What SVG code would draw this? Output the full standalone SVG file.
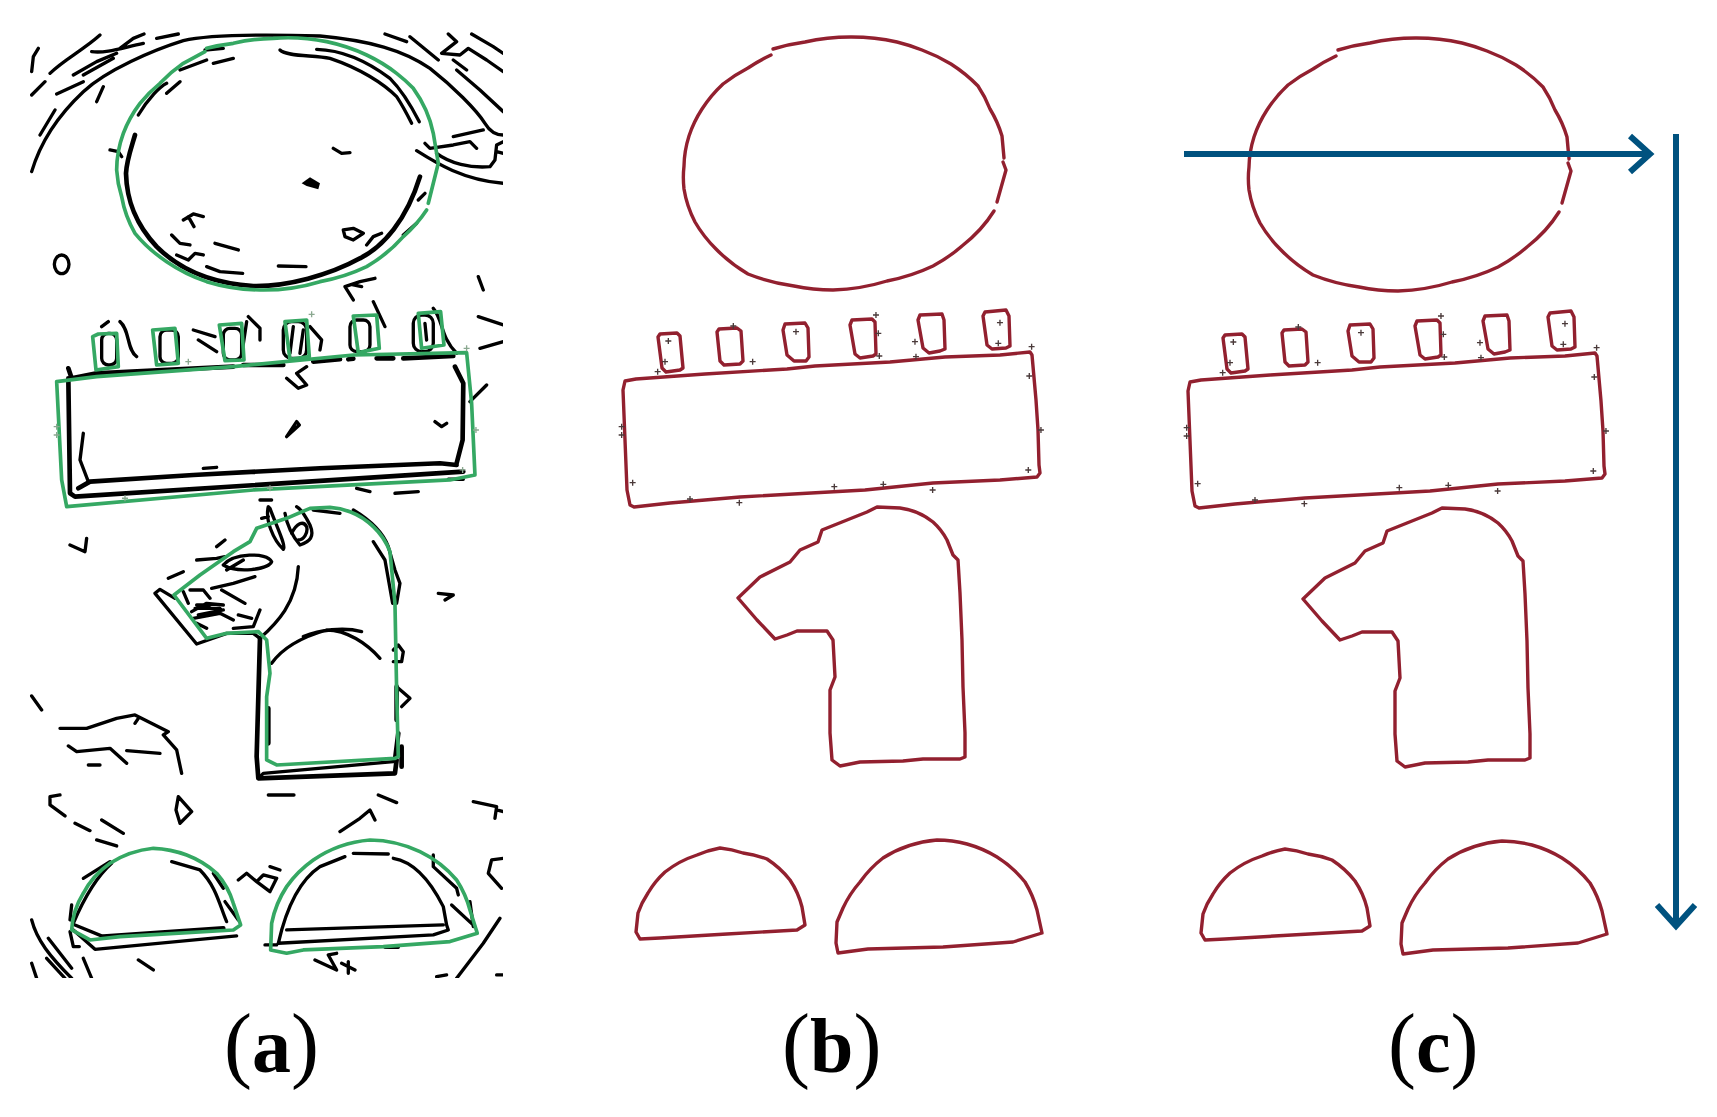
<svg xmlns="http://www.w3.org/2000/svg" xmlns:xlink="http://www.w3.org/1999/xlink" width="1717" height="1117" viewBox="0 0 1717 1117">
<style>
.k{fill:none;stroke:#000;stroke-width:10;stroke-linecap:round;stroke-linejoin:round}
.kt{stroke-width:14}
.g{fill:none;stroke:#35a863;stroke-width:11;stroke-linejoin:round;stroke-linecap:round}
.r{fill:none;stroke:#92202f;stroke-width:3.4;stroke-linejoin:round;stroke-linecap:round}
.plus{fill:none;stroke:#4a3a3a;stroke-width:4}
.gp{fill:none;stroke:#8aa890;stroke-width:4}
.lab{font-family:"Liberation Serif","Times New Roman",serif;font-size:84px;fill:#000}
.lab .b{font-weight:bold;font-size:78px}
.ar{fill:none;stroke:#00527f;stroke-width:6;stroke-linecap:butt;stroke-linejoin:miter}
</style>
<defs>
<clipPath id="cp"><rect x="28" y="32" width="475" height="946"/></clipPath>
<path id="p" d="M-9 0H9M0-9V9"/>
<g id="contours">
<path class="r" d="M773,49 A165 130 0 0 1 805,42 A165 130 0 0 1 851,37 A165 130 0 0 1 897,42 A165 130 0 0 1 922,50 A165 130 0 0 1 951,64 A165 130 0 0 1 978,86 A165 130 0 0 1 990,109 A165 130 0 0 1 1002,136 L1004,158"/>
<path class="r" d="M1003,162 L1006,170 L997,202"/>
<path class="r" d="M994,211 A165 130 0 0 1 962,246 A165 130 0 0 1 933,266 A165 130 0 0 1 887,281 A165 130 0 0 1 833,290 A165 130 0 0 1 794,286 A165 130 0 0 1 748,274 A165 130 0 0 1 716,249 A165 130 0 0 1 695,222 A165 130 0 0 1 684,189 A165 130 0 0 1 684,166 A165 130 0 0 1 689,136 A165 130 0 0 1 702,109 A165 130 0 0 1 723,84 A165 130 0 0 1 748,68 A165 130 0 0 1 771,55"/>
<path class="r" d="M625,381 L636,379 L705,374 L787,369 L815,366 L890,362 L945,357 L1000,355 L1030,352 L1032,355 L1036,400 L1038,430 L1039,465 L1040,473 L1037,477 L1000,480 L933,483 L865,490 L740,497 L670,503 L634,507 L630,505 L627,490 L625,440 L623,390 Z"/>
<path class="r" d="M660,334 L677,333 L680,336 L683,368 L680,370 L666,372 L662,368 L658,337 Z"/>
<path class="r" d="M719,329 L737,328 L741,331 L743,361 L740,364 L724,365 L720,361 L717,332 Z"/>
<path class="r" d="M785,324 L805,323 L808,328 L809,357 L806,361 L794,361 L787,355 L783,330 Z"/>
<path class="r" d="M852,320 L872,319 L875,322 L876,354 L873,356 L860,358 L855,354 L850,325 Z"/>
<path class="r" d="M920,315 L942,314 L944,320 L945,349 L940,351 L929,353 L923,348 L918,320 Z"/>
<path class="r" d="M985,312 L1006,310 L1009,316 L1010,346 L1006,348 L992,349 L987,345 L983,316 Z"/>
<path class="r" d="M738,598 L760,577 L790,562 L800,550 L818,542 L822,530 L867,512 L877,507 L900,508 A65 65 0 0 1 933,522 A65 65 0 0 1 947,540 L953,555 L958,560 L960,593 L962,640 L963,687 L965,733 L965,757 L960,759 L923,759 L903,761 L860,762 L840,766 L832,760 L830,733 L830,690 L835,677 L833,640 L827,631 L797,631 L787,635 L775,639 L757,620 Z"/>
<path class="r" d="M636,932 L638,913 A100 90 0 0 1 648,893 A100 90 0 0 1 665,872 A100 90 0 0 1 697,855 A100 90 0 0 1 720,848 A100 90 0 0 1 743,853 A100 90 0 0 1 767,859 A100 90 0 0 1 790,880 A100 90 0 0 1 802,907 L805,925 L797,930 L727,934 L660,938 L640,939 Z"/>
<path class="r" d="M837,922 L843,908 A115 110 0 0 1 860,882 A115 110 0 0 1 883,858 A115 110 0 0 1 937,840 A115 110 0 0 1 967,844 A115 110 0 0 1 997,857 A115 110 0 0 1 1025,882 A115 110 0 0 1 1037,910 L1042,933 L1013,942 L943,947 L868,949 L838,953 L836,943 Z"/>
<g transform="translate(600 300) scale(.3333)" class="plus">
<use xlink:href="#p" x="205" y="123"/><use xlink:href="#p" x="195" y="185"/><use xlink:href="#p" x="173" y="215"/><use xlink:href="#p" x="400" y="78"/><use xlink:href="#p" x="458" y="185"/><use xlink:href="#p" x="588" y="95"/><use xlink:href="#p" x="828" y="45"/><use xlink:href="#p" x="835" y="100"/><use xlink:href="#p" x="838" y="168"/><use xlink:href="#p" x="945" y="125"/><use xlink:href="#p" x="948" y="170"/><use xlink:href="#p" x="1200" y="68"/><use xlink:href="#p" x="1195" y="130"/><use xlink:href="#p" x="1295" y="140"/><use xlink:href="#p" x="1288" y="228"/><use xlink:href="#p" x="1323" y="390"/><use xlink:href="#p" x="1285" y="510"/><use xlink:href="#p" x="998" y="570"/><use xlink:href="#p" x="850" y="553"/><use xlink:href="#p" x="703" y="560"/><use xlink:href="#p" x="418" y="608"/><use xlink:href="#p" x="270" y="597"/><use xlink:href="#p" x="98" y="548"/><use xlink:href="#p" x="65" y="380"/><use xlink:href="#p" x="65" y="405"/>
</g>
</g>
</defs>
<rect width="1717" height="1117" fill="#fff"/>
<g id="panel-a" clip-path="url(#cp)">
<g transform="translate(20 20) scale(.3333)">
<path class="k" d="M35,455 C60,370 110,290 190,215 C260,150 400,90 490,62 C560,45 700,42 900,48 C1050,62 1150,90 1230,145 C1300,200 1370,270 1395,310 C1410,335 1430,345 1450,345"/>
<path class="k" d="M35,155 L40,110 L55,85M35,225 L75,185M90,160 C130,120 190,90 240,45M110,222 L190,185M160,165 L230,125 L290,100M215,95 C260,100 300,85 370,70M300,85 L340,55 L372,42M190,165 L280,115M410,55 L475,42M60,345 L105,270M230,245 L250,200M480,150 L560,120M580,130 L640,115M555,90 L610,85M440,220 L480,185M355,285 C385,235 420,200 440,190"/>
<path class="k kt" d="M345,345 C335,380 320,420 318,460 C320,540 345,610 410,680 C480,750 570,790 700,798 C800,800 930,765 1020,715 C1090,680 1160,600 1200,470"/>
<path class="k" d="M780,90 C800,110 880,105 930,115 C1020,145 1090,190 1130,230 C1150,260 1165,290 1175,310M890,88 C970,90 1050,130 1110,175 C1150,215 1180,270 1198,305"/>
<path class="k" d="M1095,42 L1160,65M1170,50 L1255,120M1285,42 L1310,65 L1265,100 L1320,105 L1345,85 L1400,120 L1450,155M1355,42 L1420,80 L1450,100M1310,150 L1380,210 L1450,275M1300,120 L1340,150"/>
<path class="k" d="M1300,350 L1390,330M1215,370 L1230,385 L1300,375 L1350,365 L1370,385M1190,392 C1250,430 1330,480 1450,490M1250,400 C1290,430 1350,445 1410,440 L1425,420 L1430,375 L1450,365M1430,395 L1450,400M940,385 L965,400 L990,398M1215,520 L1195,540"/>
<path d="M845,490 L870,472 L900,490 L895,508 L860,498 Z" fill="#000"/>
<path class="k" d="M490,600 L520,582 L550,590M505,590 L522,620M455,645 L480,670 L510,675M585,670 L655,690M470,705 L505,720 L525,700 L550,705M560,740 L600,755 L668,760M775,738 L858,740M970,630 L1000,625 L1030,640 L1000,660 L975,650 ZM1040,675 L1060,650 L1085,640M1150,645 L1190,610M270,390 L295,395 L305,410M1065,775 L1020,785 L975,800 L1000,840M1000,795 L1025,800M1375,770 L1390,810M1375,890 L1450,915M1380,985 L1450,965M1350,1145 L1400,1095"/>
<ellipse class="k" cx="125" cy="733" rx="22" ry="28"/>
<rect class="k" x="245" y="940" width="45" height="95" rx="20"/><rect class="k" x="420" y="930" width="55" height="100" rx="20"/><rect class="k" x="610" y="925" width="55" height="95" rx="20"/><rect class="k" x="790" y="905" width="70" height="110" rx="25"/><rect class="k" x="990" y="900" width="60" height="95" rx="20"/><rect class="k" x="1180" y="885" width="60" height="110" rx="25"/>
<path class="k" d="M245,920 L265,905M300,905 C330,930 320,990 350,1010M685,890 L720,925 V960M680,905 L665,1005M520,930 L585,950M535,960 L590,995M1060,845 L1095,920M1240,865 C1270,900 1260,950 1310,1000M870,920 L905,960 L900,990M820,920 L810,1000M850,930 L840,1000M1215,910 L1220,960"/>
<path class="k kt" d="M145,1045 L155,1075 L230,1060 L640,1040M670,1035 L790,1035M880,1025 L960,1018M985,1018 L1000,1016M1070,1015 L1120,1015M1150,1015 L1300,1008"/>
<path class="k kt" d="M145,1075 L150,1420 L165,1430 L1330,1355M175,1405 L210,1385 L520,1365 L900,1345 L1260,1330 L1310,1335M1305,1040 L1330,1090 L1328,1260 L1310,1330"/>
<path class="k" d="M190,1240 L180,1320 L205,1385M550,1345 L590,1342M800,1250 L830,1205 L838,1215 L800,1250 ZM1245,1205 L1265,1220 L1280,1210M800,1075 L835,1105 L860,1095 L830,1060 L860,1040M1010,1405 L1050,1415M1125,1420 L1195,1415M1285,1378 L1330,1378"/>
<path class="g" d="M560,85 A480 390 0 0 1 640,70 A480 390 0 0 1 760,55 A480 390 0 0 1 920,65 A480 390 0 0 1 1040,105 A480 390 0 0 1 1130,160 A480 390 0 0 1 1180,205 A480 390 0 0 1 1240,340 L1255,430 L1225,550"/>
<path class="g" d="M1220,570 A480 390 0 0 1 1150,650 A480 390 0 0 1 1040,740 A480 390 0 0 1 900,785 A480 390 0 0 1 720,810 A480 390 0 0 1 560,785 A480 390 0 0 1 440,725 A480 390 0 0 1 345,640 A480 390 0 0 1 305,530 A480 390 0 0 1 290,450 A480 390 0 0 1 310,340 A480 390 0 0 1 360,250 A480 390 0 0 1 420,190 A480 390 0 0 1 490,130 L555,95"/>
<path class="g" d="M110,1085 L230,1070 L640,1040 L1000,1005 L1340,998 L1355,1150 L1365,1365 L1290,1380 L700,1410 L140,1460 L125,1380 Z"/>
<path class="g" d="M218,950 L235,942 L290,940 L295,1040 L228,1050 ZM398,930 L465,925 L475,1030 L410,1035 ZM598,915 L665,910 L672,1020 L615,1022 ZM795,905 L860,900 L868,1010 L810,1018 ZM1000,888 L1070,885 L1078,985 L1015,998 ZM1195,880 L1262,875 L1272,975 L1205,985 Z"/>
<g class="gp"><use xlink:href="#p" x="875" y="883"/><use xlink:href="#p" x="505" y="1025"/><use xlink:href="#p" x="1340" y="985"/><use xlink:href="#p" x="1368" y="1230"/><use xlink:href="#p" x="1328" y="1350"/><use xlink:href="#p" x="110" y="1220"/><use xlink:href="#p" x="110" y="1245"/><use xlink:href="#p" x="315" y="1435"/><use xlink:href="#p" x="750" y="1405"/></g>
</g>
<g transform="translate(20 490) scale(.3333)">
<path class="k" d="M405,310 L420,298 L465,325M405,310 L530,462 L620,430 L700,430 L720,445 C770,400 830,340 835,230"/>
<path class="k kt" d="M720,445 L710,800 L715,865 L1125,850 L1130,810M1125,810 L1135,730"/>
<path class="k" d="M720,860 L730,850 L1120,815"/>
<path class="k" d="M755,520 C790,470 850,440 920,420 C980,420 1040,460 1080,505M850,440 C900,420 970,410 1025,425"/>
<path class="k" d="M1060,155 L1095,210 L1118,340M1000,60 C1050,90 1090,130 1105,170 L1125,240 L1140,280 L1130,340M880,60 L960,70"/>
<path class="k" d="M1120,480 L1135,465 L1150,485 L1145,515 L1120,515M1130,590 L1170,625 L1145,650M1255,310 L1300,315 L1275,330"/>
<path class="k kt" d="M1130,590 V690M1145,770 V830M745,655 V760"/>
<path class="k" d="M745,50 C735,90 760,150 790,178 C800,170 770,110 750,55 ZM795,70 C800,100 810,130 840,165 C870,155 885,140 870,105 C855,75 840,55 830,50M815,130 C830,100 850,90 860,110 C865,130 850,150 835,150M720,30 L755,30M725,85 L745,80"/>
<path class="k" d="M150,165 L195,185 L200,145M590,170 L615,150M530,210 L590,205 L615,200M610,225 C640,190 740,185 755,215 C745,240 650,250 610,225M620,240 L670,210M445,265 L490,245M575,295 L640,280 L705,260M605,300 L675,340M490,305 L505,340M510,300 L550,300 L570,325M515,365 L560,340 L610,345M520,385 L600,370 L640,390M530,400 L560,415M640,415 L700,410 L720,360M655,375 L695,385M530,345 L570,345M525,355 L600,355M535,375 L610,360"/>
<path class="k" d="M35,618 L65,660M120,715 L200,715 L290,685 L345,675 L445,725 L430,735 L470,780 L485,850M145,768 L170,785 L270,775 L320,820M320,782 L420,790M205,825 L240,825M345,700 L355,685"/>
<path class="k" d="M120,915 L90,920 L90,945 L135,978M165,1000 L210,1022M245,990 L310,1030M230,1050 L290,1068M475,920 L515,965 L480,1000 L468,960 ZM745,915 L822,915M960,1025 L1020,985 L1050,960 L1065,990M1075,915 L1130,938M1360,935 L1430,950 L1425,985M1430,960 L1450,965"/>
<path class="k" d="M160,1300 C190,1230 230,1160 275,1120M190,1165 L270,1115M155,1245 L150,1290M455,1115 L540,1140 C590,1190 600,1250 620,1295M580,1150 L610,1195M615,1235 L655,1290M165,1305 L250,1340M160,1320 L225,1378 L650,1338M150,1325 L160,1370 L178,1370"/>
<path class="k kt" d="M250,1340 L610,1315"/>
<path class="k" d="M35,1290 C50,1350 90,1400 155,1465M85,1345 L155,1435M80,1405 L135,1465M35,1420 L50,1465M190,1405 L215,1465M355,1410 L400,1440M655,1170 L680,1150 L710,1175 L750,1205 L770,1165 L730,1155 L710,1175M750,1130 L780,1140"/>
<path class="k" d="M775,1360 C800,1250 840,1170 900,1130 L975,1100M1000,1090 L1105,1092M1120,1105 C1180,1115 1230,1170 1270,1250 L1280,1305M800,1320 L1270,1305M1280,1305 L1285,1320 L1240,1335 L775,1360M735,1365 L770,1365M1240,1095 L1240,1130 L1310,1195 L1315,1215M1295,1245 L1365,1310M1350,1235 L1360,1310"/>
<path class="k" d="M885,1410 L950,1440 L925,1395 L950,1390M965,1420 L1005,1440M985,1415 V1450M1095,1372 L1135,1372M1310,1465 L1390,1360 L1440,1285M1450,1105 L1415,1110 L1405,1150 L1445,1195M1250,1460 L1280,1455M1430,1455 L1450,1455"/>
<path class="g" d="M462,315 L540,255 L640,185 L690,155 L710,115 L800,85 L870,55 L930,52 A200 200 0 0 1 990,65 A200 200 0 0 1 1060,110 A200 200 0 0 1 1110,185 L1125,340 L1130,600 L1135,800 L1125,805 L770,825 L740,810 L740,620 L750,550 L740,450 L715,425 L620,430 L560,445 Z"/>
<path class="g" d="M155,1320 A280 250 0 0 1 190,1210 A280 250 0 0 1 270,1120 A280 250 0 0 1 400,1075 A280 250 0 0 1 500,1095 A280 250 0 0 1 590,1150 A280 250 0 0 1 640,1240 L662,1305 L640,1320 L300,1340 L210,1350 Z"/>
<path class="g" d="M752,1380 L755,1300 A340 320 0 0 1 800,1190 A340 320 0 0 1 880,1110 A340 320 0 0 1 1050,1050 A340 320 0 0 1 1200,1085 A340 320 0 0 1 1310,1170 A340 320 0 0 1 1350,1260 L1372,1330 L1290,1355 L1090,1370 L850,1380 L800,1390 Z"/>
</g>
</g>
<g id="panel-b"><use xlink:href="#contours"/></g>
<g id="panel-c"><use xlink:href="#contours" transform="translate(565 1)"/></g>
<g id="connectors">
<path class="ar" d="M1184,154 L1650,154M1630,136 L1650,154 L1630,172"/>
<path class="ar" d="M1676,134 L1676,926M1657,905 L1676,926 L1695,905"/>
</g>
<g id="label-a"><text class="lab" x="224" y="1072">(<tspan class="b">a</tspan>)</text></g>
<g id="label-b"><text class="lab" x="782" y="1072">(<tspan class="b">b</tspan>)</text></g>
<g id="label-c"><text class="lab" x="1388" y="1072">(<tspan class="b">c</tspan>)</text></g>
</svg>
